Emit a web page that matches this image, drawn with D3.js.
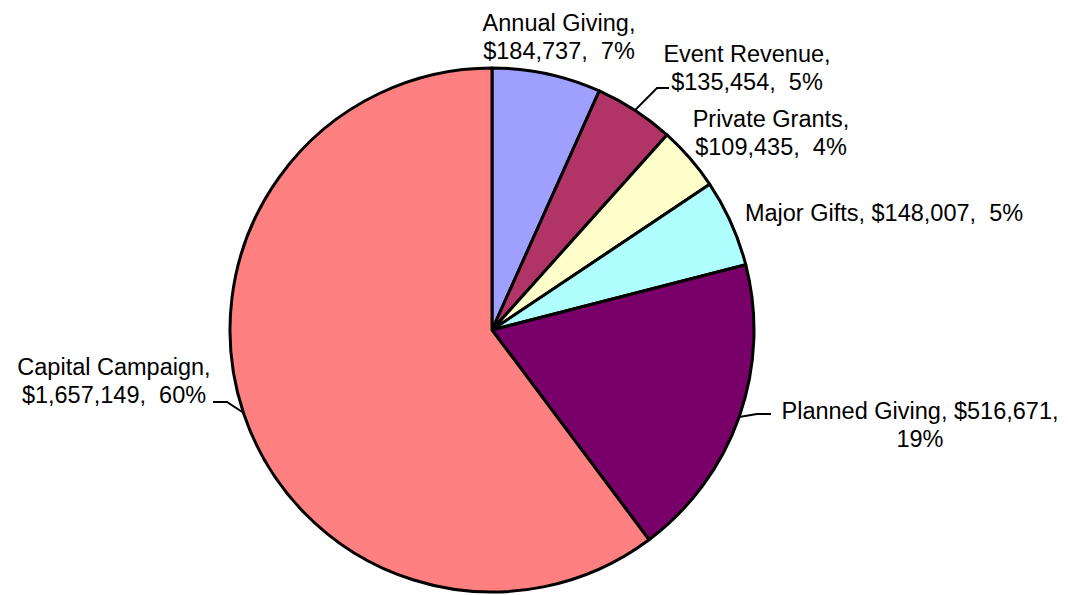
<!DOCTYPE html>
<html>
<head>
<meta charset="utf-8">
<script src="https://cdn.jsdelivr.net/npm/d3@7"></script>
<style>
  body { margin: 0; background: #fff; }
  svg text { font-family: "Liberation Sans", Arial, sans-serif; white-space: pre; }
</style>
</head>
<body>
<div id="vis"></div>
<script>
// chart data
const categories = ["Annual Giving", "Event Revenue", "Private Grants", "Major Gifts", "Planned Giving", "Capital Campaign"];
const amounts = [184737, 135454, 109435, 148007, 516671, 1657149];
const valueLabels = ["$184,737", "$135,454", "$109,435", "$148,007", "$516,671", "$1,657,149"];
const percentLabels = ["7%", "5%", "4%", "5%", "19%", "60%"];
const colors = ["#9f9fff", "#b03466", "#ffffcc", "#b0ffff", "#780068", "#ff8080"];

// label layout: centre x, first baseline y, lines
const labelLayout = [
    { x: 559, y: 31, lines: (i) => [categories[i] + ",", valueLabels[i] + ",  " + percentLabels[i]] },
    { x: 747, y: 62, lines: (i) => [categories[i] + ",", valueLabels[i] + ",  " + percentLabels[i]] },
    { x: 771, y: 127, lines: (i) => [categories[i] + ",", valueLabels[i] + ",  " + percentLabels[i]] },
    { x: 884, y: 221, lines: (i) => [categories[i] + ", " + valueLabels[i] + ",  " + percentLabels[i]] },
    { x: 920, y: 419, lines: (i) => [categories[i] + ", " + valueLabels[i] + ",", percentLabels[i]] },
    { x: 114, y: 375, lines: (i) => [categories[i] + ",", valueLabels[i] + ",  " + percentLabels[i]] }
];
// leader line elbows (null = no leader)
const leaders = [
    null,
    [[657, 88], [669, 88]],
    null,
    null,
    [[757, 414], [771, 414]],
    [[227, 402], [213, 402]]
];

const WIDTH = 1069;
const HEIGHT = 595;
const CX = 492;
const CY = 330;
const RADIUS = 262;
const FONT_SIZE = 23.5;
const LINE_HEIGHT = 28;

var svg = d3.select("#vis")
    .append("svg")
    .attr("width", WIDTH)
    .attr("height", HEIGHT);

var pie = d3.pie().sort(null).value(function (d) { return d; });
var arcs = pie(amounts);
var arc = d3.arc().innerRadius(0).outerRadius(RADIUS);

var g = svg.append("g").attr("transform", "translate(" + CX + "," + CY + ")");

g.selectAll("path")
    .data(arcs)
    .enter()
    .append("path")
    .attr("d", arc)
    .attr("fill", function (d, i) { return colors[i]; })
    .attr("stroke", "#000")
    .attr("stroke-width", 3)
    .attr("stroke-linejoin", "round");

// leader lines
arcs.forEach(function (d, i) {
    if (!leaders[i]) return;
    var mid = (d.startAngle + d.endAngle) / 2;
    var p0 = [CX + RADIUS * Math.sin(mid), CY - RADIUS * Math.cos(mid)];
    var pts = [p0].concat(leaders[i]);
    svg.append("path")
        .attr("d", d3.line()(pts))
        .attr("fill", "none")
        .attr("stroke", "#000")
        .attr("stroke-width", 2);
});

// labels
labelLayout.forEach(function (l, i) {
    var t = svg.append("text")
        .attr("text-anchor", "middle")
        .attr("font-size", FONT_SIZE + "px")
        .attr("fill", "#000");
    l.lines(i).forEach(function (s, k) {
        t.append("tspan")
            .attr("x", l.x)
            .attr("y", l.y + k * LINE_HEIGHT)
            .text(s);
    });
});
</script>
</body>
</html>
